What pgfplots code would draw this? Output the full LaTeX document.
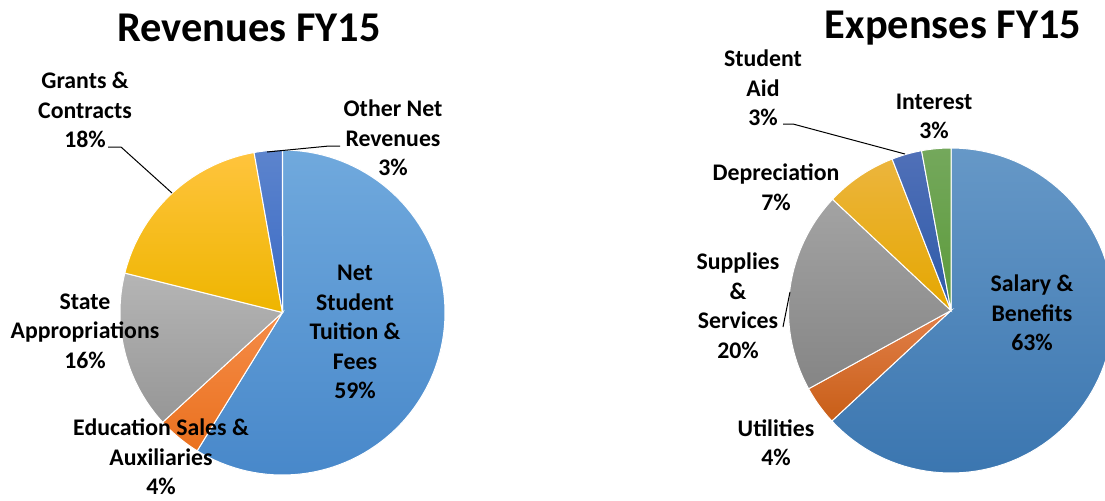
\documentclass[border=0pt]{standalone}
\usepackage{pgfplots}
\pgfplotsset{compat=1.18}
\usepackage{fontspec}
\setmainfont{Carlito}

% Revenue colours
\definecolor{rBlueT}{HTML}{70A9DD}
\definecolor{rBlueB}{HTML}{4888CA}
\definecolor{rOrgT}{HTML}{F58C48}
\definecolor{rOrgB}{HTML}{EA711F}
\definecolor{rGryT}{HTML}{B5B5B5}
\definecolor{rGryB}{HTML}{969696}
\definecolor{rGldT}{HTML}{FFC43D}
\definecolor{rGldB}{HTML}{EEB500}
\definecolor{rDkbT}{HTML}{5C84CD}
\definecolor{rDkbB}{HTML}{3A6AC5}
% Expense colours
\definecolor{eBlueT}{HTML}{6698C7}
\definecolor{eBlueB}{HTML}{3B76B0}
\definecolor{eOrgT}{HTML}{E2804A}
\definecolor{eOrgB}{HTML}{C85E17}
\definecolor{eGryT}{HTML}{A3A3A3}
\definecolor{eGryB}{HTML}{858585}
\definecolor{eGldT}{HTML}{ECB53D}
\definecolor{eGldB}{HTML}{E5A700}
\definecolor{eDkbT}{HTML}{5070B8}
\definecolor{eDkbB}{HTML}{2E5AA8}
\definecolor{eGrnT}{HTML}{74A85C}
\definecolor{eGrnB}{HTML}{5C9A3A}

\newcommand\piecenter[3]{\xdef\cx{#1}\xdef\cy{#2}\xdef\rr{#3}\xdef\astart{0}}
\newcommand\slice[3]{%
  \pgfmathsetmacro\aend{\astart+#1*3.6}%
  \edef\tmp{\noexpand\addplot[draw=white, line width=0.5pt, top color=#2, bottom color=#3,
     domain=\astart:\aend, samples=90]
     ({\cx+\rr*sin(x)},{\cy-\rr*cos(x)}) -- (axis cs:\cx,\cy) -- cycle;}%
  \tmp
  \xdef\astart{\aend}}

\begin{document}
\begin{tikzpicture}[
  lbl/.style={font=\fontsize{11.9}{14.75}\selectfont\bfseries, align=center, text=black, inner sep=0pt},
  ttl/.style={font=\fontsize{21.2}{25}\selectfont\bfseries, text=black, inner sep=0pt}]
\begin{axis}[width=552.5pt, height=250pt, scale only axis,
  xmin=0, xmax=1105, ymin=0, ymax=500, y dir=reverse,
  hide axis, clip=true]

% ---- Revenues FY15 (percent of total) ----
\piecenter{282.5}{312.5}{162.5}
\slice{58.8}{rBlueT}{rBlueB}   % Net Student Tuition & Fees
\slice{4.4}{rOrgT}{rOrgB}      % Education Sales & Auxiliaries
\slice{15.7}{rGryT}{rGryB}     % State Appropriations
\slice{18.3}{rGldT}{rGldB}     % Grants & Contracts
\slice{2.8}{rDkbT}{rDkbB}      % Other Net Revenues

% ---- Expenses FY15 (percent of total) ----
\piecenter{951}{310.5}{162.5}
\slice{63.1}{eBlueT}{eBlueB}   % Salary & Benefits
\slice{3.9}{eOrgT}{eOrgB}      % Utilities
\slice{20.0}{eGryT}{eGryB}     % Supplies & Services
\slice{7.1}{eGldT}{eGldB}      % Depreciation
\slice{3.0}{eDkbT}{eDkbB}      % Student Aid
\slice{2.9}{eGrnT}{eGrnB}      % Interest

% leader lines
\addplot[black, line width=0.5pt] coordinates {(108,147) (121,147) (172,193)};
\addplot[black, line width=0.5pt] coordinates {(340,146) (329,146) (267,152)};
\addplot[black, line width=0.5pt] coordinates {(783,124) (793,124) (905,154)};
\addplot[black, line width=0.5pt] coordinates {(783,327) (790,292)};

% titles
\node[ttl] at (axis cs:249,28) {Revenues FY15};
\node[ttl] at (axis cs:953,28) {Expenses FY15};

% revenue labels
\node[lbl] at (axis cs:85,110) {Grants \&\\Contracts\\18\%};
\node[lbl] at (axis cs:393,138) {Other Net\\Revenues\\3\%};
\node[lbl] at (axis cs:355,332) {Net\\Student\\Tuition \&\\Fees\\59\%};
\node[lbl] at (axis cs:85,331) {State\\Appropriations\\16\%};
\node[lbl] at (axis cs:161,457) {Education Sales \&\\Auxiliaries\\4\%};

% expense labels
\node[lbl] at (axis cs:763,88) {Student\\Aid\\3\%};
\node[lbl] at (axis cs:934,116.5) {Interest\\3\%};
\node[lbl] at (axis cs:776,187) {Depreciation\\7\%};
\node[lbl] at (axis cs:738,305.5) {Supplies\\\&\\Services\\20\%};
\node[lbl] at (axis cs:1032,313) {Salary \&\\Benefits\\63\%};
\node[lbl] at (axis cs:776,442.5) {Utilities\\4\%};
\end{axis}
\pgfresetboundingbox
\path[use as bounding box] (current axis.south west) rectangle (current axis.north east);
\end{tikzpicture}
\end{document}
